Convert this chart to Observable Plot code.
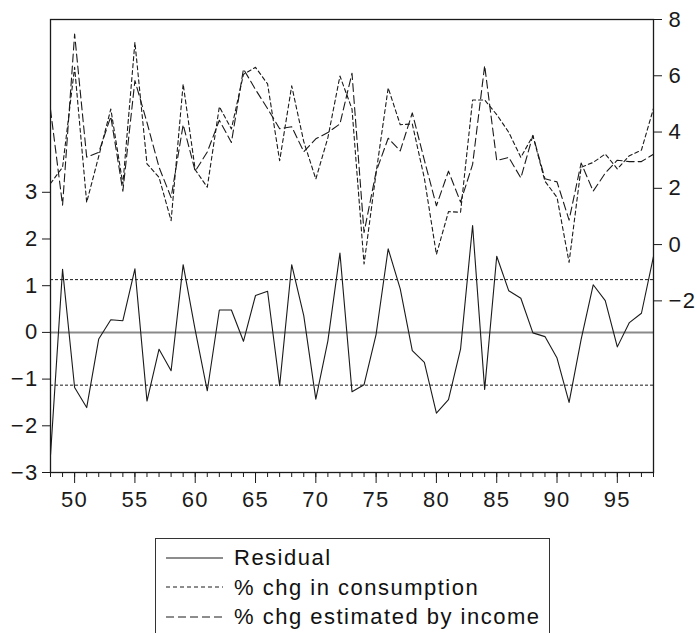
<!DOCTYPE html>
<html>
<head>
<meta charset="utf-8">
<script src="https://cdn.jsdelivr.net/npm/d3@7"></script>
<script src="https://cdn.jsdelivr.net/npm/@observablehq/plot@0.6"></script>
<style>
  html, body { margin: 0; padding: 0; background: #fff; overflow: hidden; }
  body { width: 697px; height: 633px; position: relative; font-family: "Liberation Sans", Arial, sans-serif; }
  #chart svg text { letter-spacing: 1.3px; }
  #legend { position: absolute; left: 155px; top: 538px; width: 395px; height: 110px; border: 1.3px solid #333; border-bottom: none; box-sizing: border-box; padding-top: 4px; font-size: 22px; letter-spacing: 1.5px; color: #111; }
  .row { height: 29.5px; line-height: 29.5px; display: flex; align-items: center; white-space: nowrap; }
  .row svg { margin-left: 10px; margin-right: 11px; flex: none; }
</style>
</head>
<body>
<div id="chart"></div>
<div id="legend"></div>
<script>
const years = [1948,1949,1950,1951,1952,1953,1954,1955,1956,1957,1958,1959,1960,1961,1962,1963,1964,1965,1966,1967,1968,1969,1970,1971,1972,1973,1974,1975,1976,1977,1978,1979,1980,1981,1982,1983,1984,1985,1986,1987,1988,1989,1990,1991,1992,1993,1994,1995,1996,1997,1998];
const residual = [-2.63,1.35,-1.18,-1.61,-0.14,0.27,0.25,1.36,-1.47,-0.36,-0.82,1.45,0.05,-1.25,0.48,0.48,-0.19,0.79,0.88,-1.14,1.45,0.36,-1.43,-0.18,1.70,-1.27,-1.12,-0.04,1.79,0.93,-0.39,-0.64,-1.73,-1.44,-0.36,2.29,-1.22,1.63,0.89,0.73,-0.01,-0.09,-0.55,-1.50,-0.15,1.02,0.68,-0.31,0.21,0.41,1.63];
const consumption = [2.17,2.75,6.30,1.50,3.14,4.82,2.15,7.19,2.87,2.39,0.85,5.71,2.66,2.04,4.90,4.11,6.05,6.30,5.71,2.98,5.64,3.66,2.33,3.80,5.99,4.82,-0.69,2.55,5.57,4.26,4.29,2.36,-0.35,1.17,1.15,5.14,5.14,4.62,3.99,3.10,3.87,2.25,1.68,-0.63,2.75,2.92,3.22,2.69,3.16,3.36,4.84];
const estimated = [4.80,1.40,7.48,3.11,3.28,4.55,1.90,5.83,4.34,2.75,1.67,4.26,2.61,3.29,4.42,3.63,6.24,5.51,4.83,4.12,4.19,3.30,3.76,3.98,4.29,6.09,0.43,2.59,3.78,3.33,4.68,3.00,1.38,2.61,1.51,2.85,6.36,2.99,3.10,2.37,3.88,2.34,2.23,0.87,2.90,1.90,2.54,3.00,2.95,2.95,3.21];
const leftTicks = [-3,-2,-1,0,1,2,3];
const rightTicks = [-2,0,2,4,6,8];
const majorYears = [1950,1955,1960,1965,1970,1975,1980,1985,1990,1995];
const bandLines = [1.13,-1.13];
const leftDomain = [-3, 6.7];
const rightDomain = [-8.1, 8];
const legendLabels = ["Residual", "% chg in consumption", "% chg estimated by income"];
const legendDash = [null, "4,3", "8,4"];

const k = (leftDomain[1]-leftDomain[0])/(rightDomain[1]-rightDomain[0]);
const toLeft = r => leftDomain[0] + (r - rightDomain[0]) * k;
const toRight = l => rightDomain[0] + (l - leftDomain[0]) / k;
const fmt = v => v < 0 ? "\u2212" + Math.abs(v) : String(v);

const data = years.map((y, i) => ({year: y, res: residual[i], cons: consumption[i], est: estimated[i]}));
const ink = "#1a1a1a";

const chart = Plot.plot({
  width: 697,
  height: 530,
  marginLeft: 50,
  marginRight: 44,
  marginTop: 19,
  marginBottom: 58,
  style: {background: "#fff", fontFamily: "'Liberation Sans', Arial, sans-serif", fontSize: "22px", color: ink},
  x: {domain: [1948, 1998], axis: null, label: null},
  y: {domain: leftDomain, axis: null, label: null},
  marks: [
    Plot.ruleY([0], {stroke: "#8a8a8a", strokeWidth: 2}),
    Plot.ruleY(bandLines, {stroke: ink, strokeWidth: 1, strokeDasharray: "3,2"}),
    Plot.line(data, {x: "year", y: "res", stroke: ink, strokeWidth: 1.1}),
    Plot.line(data, {x: "year", y: d => toLeft(d.cons), stroke: ink, strokeWidth: 1.1, strokeDasharray: "4,3"}),
    Plot.line(data, {x: "year", y: d => toLeft(d.est), stroke: ink, strokeWidth: 1.1, strokeDasharray: "8,4"}),
    Plot.frame({stroke: ink, strokeWidth: 1.3}),
    Plot.axisY(leftTicks, {anchor: "left", label: null, tickSize: 8, tickPadding: 4, tickFormat: fmt, fontSize: 22, stroke: ink}),
    Plot.axisY(rightTicks.map(toLeft), {anchor: "right", label: null, tickSize: 8, tickPadding: 7, tickFormat: d => fmt(Math.round(toRight(d))), fontSize: 22, stroke: ink}),
    Plot.axisX(years, {anchor: "bottom", label: null, tickSize: 5, tickFormat: () => "", stroke: ink}),
    Plot.axisX(majorYears, {anchor: "bottom", label: null, tickSize: 11, tickPadding: 8, tickFormat: d => String(d % 100), fontSize: 22, stroke: ink})
  ]
});
document.getElementById("chart").appendChild(chart);

const legend = document.getElementById("legend");
legendLabels.forEach((label, i) => {
  const row = document.createElement("div");
  row.className = "row";
  const dash = legendDash[i] ? ` stroke-dasharray="${legendDash[i]}"` : "";
  row.innerHTML = `<svg width="57" height="4"><line x1="0" y1="2" x2="57" y2="2" stroke="${ink}" stroke-width="1"${dash}/></svg><span>${label}</span>`;
  legend.appendChild(row);
});
</script>
</body>
</html>
